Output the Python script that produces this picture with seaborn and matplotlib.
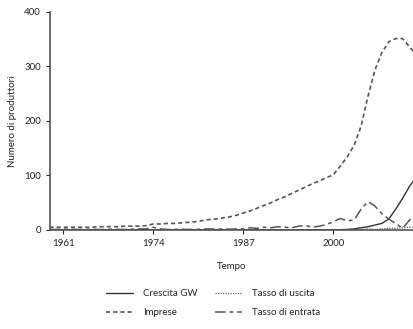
import pandas as pd
import matplotlib.pyplot as plt
import seaborn as sns

# anni e serie
years = list(range(1959, 2013))

crescita_gw = [0, 0, 0.5, 0.5, 0.5, 0.5, 0.5, 0.5, 0.5, 0.5, 0.5, 0.5, 0.5, 0.5, 0.5,
               0.5, 0.5, 0.5, 0.5, 0.5, 0.5, 0.5, 0.5, 0.5, 0.5, 0.5, 0.5, 0.5, 0.5,
               0.5, 0.5, 0.5, 0.5, 0.5, 0.5, 0.5, 0.5, 0.5, 0.5, 0.5, 0.5,
               0.5, 0.5, 1, 2, 4, 6, 9, 12, 20, 38, 58, 80, 97]

imprese = [5, 5, 5, 5, 5, 5, 5, 6, 6, 6, 6, 7, 7, 7, 8,
           11, 11, 12, 12, 13, 14, 15, 17, 19, 20, 22, 24, 27, 31,
           35, 40, 45, 50, 56, 61, 67, 73, 79, 85, 90, 96,
           101, 117, 134, 155, 190, 245, 293, 325, 345, 351, 351, 336, 320]

tasso_uscita = [0.5] * 45 + [1, 2, 1, 2, 3, 3, 4, 5, 6]

tasso_entrata = [1, 1, 1.5, 1.5, 1, 1, 1.5, 1, 1, 1.5, 1, 1, 1.5, 2, 2,
                 5, 2, 1, 1, 1.5, 1, 1, 1.5, 2, 1.5, 2, 1.5, 2, 2,
                 4, 3, 5, 4, 6, 5, 4, 7, 8, 5, 7, 10,
                 15, 21, 17, 18, 38, 52, 44, 30, 20, 12, 3, 18, 30]

df = pd.DataFrame({'anno': years, 'Crescita GW': crescita_gw, 'Imprese': imprese,
                   'Tasso di uscita': tasso_uscita, 'Tasso di entrata': tasso_entrata})

sns.set_style("ticks")
plt.rcParams['font.family'] = ['Lato', 'DejaVu Sans']

fig = plt.figure(figsize=(4.14, 3.29), dpi=100)
ax = fig.add_axes([0.121, 0.301, 0.879, 0.663])

sns.lineplot(data=df, x='anno', y='Crescita GW', ax=ax, color='#333333',
             linewidth=1.0, linestyle='-', label='Crescita GW')
sns.lineplot(data=df, x='anno', y='Imprese', ax=ax, color='#555555',
             linewidth=1.2, linestyle=(0, (2.5, 1.8)), label='Imprese')
sns.lineplot(data=df, x='anno', y='Tasso di uscita', ax=ax, color='#666666',
             linewidth=0.9, linestyle=(0, (1, 1)), label='Tasso di uscita')
sns.lineplot(data=df, x='anno', y='Tasso di entrata', ax=ax, color='#555555',
             linewidth=1.1, linestyle=(0, (7, 2.5, 2.5, 2.5)), label='Tasso di entrata')

ax.set_xlim(1959.1, 2011.65)
ax.set_ylim(0, 400)
ax.set_xticks([1961, 1974, 1987, 2000])
ax.set_yticks([0, 100, 200, 300, 400])
ax.set_xlabel('Tempo', fontsize=7, color='#222222', labelpad=10)
ax.set_ylabel('Numero di produttori', fontsize=7, color='#222222', labelpad=5)
ax.tick_params(labelsize=7, colors='#222222', length=3, width=0.8)
sns.despine(ax=ax)
for s in ['left', 'bottom']:
    ax.spines[s].set_color('#555555')
    ax.spines[s].set_linewidth(1.2)

handles, labels = ax.get_legend_handles_labels()
ax.get_legend().remove()
fig.legend(handles, labels, loc='center', bbox_to_anchor=(0.515, 0.078), ncol=2,
           frameon=False, fontsize=7, handlelength=2.8, handletextpad=1.0,
           columnspacing=1.8, labelspacing=1.0, labelcolor='#222222')

fig.savefig('out.png', dpi=100)
